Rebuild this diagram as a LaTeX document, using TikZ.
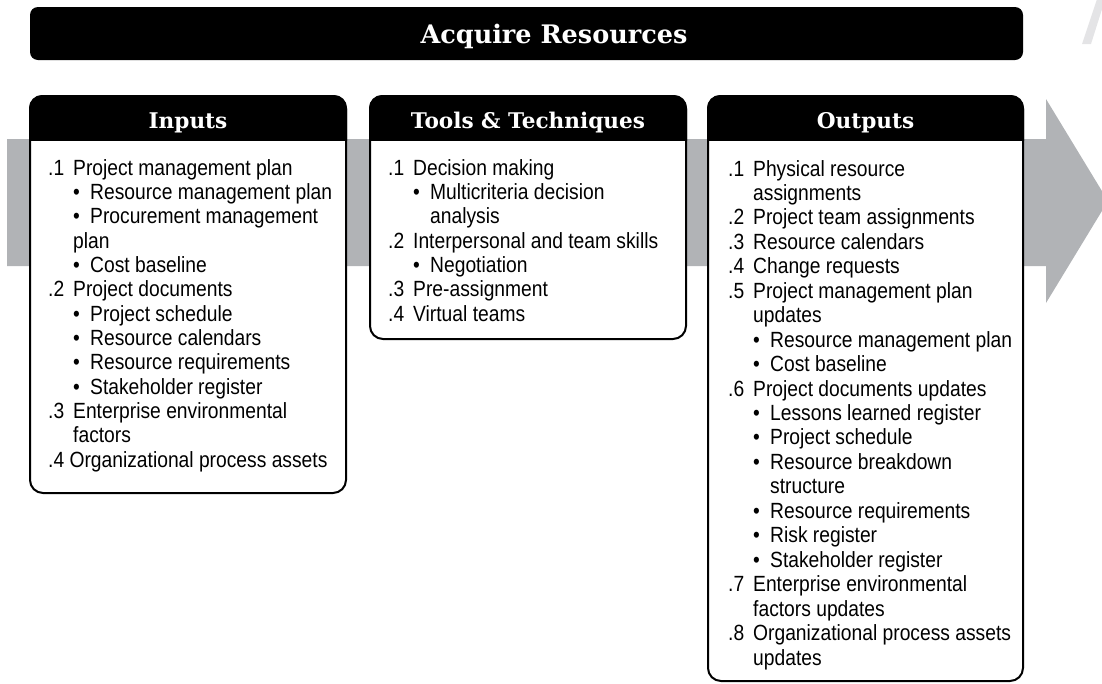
\documentclass[tikz,border=0pt]{standalone}
\usepackage{fontspec}
\setmainfont{Liberation Sans}[FakeStretch=0.875]
\newfontfamily\headfont{DejaVu Serif}
\usepackage{tikz}
\usetikzlibrary{positioning}
\definecolor{arrowgray}{RGB}{177,179,182}
\definecolor{sliver}{RGB}{228,228,230}
\newcommand\nm[1]{\makebox[25pt][l]{#1}}
\newcommand\bl{\hspace*{25pt}\makebox[17pt][l]{\textbullet}}
\newcommand\ct{\hspace*{25pt}}
\newcommand\bc{\hspace*{42pt}}

\tikzset{
  itemtext/.style={anchor=base west, inner sep=0pt, font=\fontsize{22}{24}\selectfont},
  headtext/.style={anchor=base, inner sep=0pt, text=white, font=\headfont\bfseries\fontsize{21.6}{24}\selectfont},
  boxline/.style={draw=black, line width=2pt, fill=white, rounded corners=13pt},
}

\begin{document}
\begin{tikzpicture}[x=1pt, y=-1pt]
\useasboundingbox (0,0) rectangle (1102,683);
\clip (0,0) rectangle (1102,683);

% faint sliver, top right
\fill[sliver] (1082,44) -- (1091,44) -- (1103,6) -- (1103,-1) -- (1097,-1) -- cycle;

% big gray arrow behind everything
\fill[arrowgray] (7,139) -- (1046,139) -- (1046,99) -- (1108,201) -- (1046,303) -- (1046,266) -- (7,266) -- cycle;

% title bar
\fill[rounded corners=8pt] (30,7) rectangle (1023,60);
\node[headtext, font=\headfont\bfseries\fontsize{25.5}{28}\selectfont] (title) at (554,43) {Acquire Resources};

% the three boxes
\foreach \nme/\xa/\xb/\yb/\ttl in {in/30/346/493/Inputs, tt/370/686/339/{Tools \& Techniques}, out/708/1023/681/Outputs}{
  \draw[boxline] (\xa,96) rectangle (\xb,\yb);
  \begin{scope}
    \clip (\xa-2,90) rectangle (\xb+2,140);
    \fill[rounded corners=13pt] (\xa-1,95) rectangle (\xb+1,170);
  \end{scope}
  \node[headtext] (\nme-head) at ({(\xa+\xb)/2},128) {\ttl};
}

% inputs
\foreach \ln [count=\i from 0] in {{\nm{.1}Project management plan}, {\bl Resource management plan},
  {\bl Procurement management}, {\ct plan}, {\bl Cost baseline}, {\nm{.2}Project documents},
  {\bl Project schedule}, {\bl Resource calendars}, {\bl Resource requirements},
  {\bl Stakeholder register}, {\nm{.3}Enterprise environmental}, {\ct factors},
  {.4 Organizational process assets}}
  \node[itemtext] (in-\i) at (48,{175+\i*24.35}) {\ln};

% tools & techniques
\foreach \ln [count=\i from 0] in {{\nm{.1}Decision making}, {\bl Multicriteria decision},
  {\bc analysis}, {\nm{.2}Interpersonal and team skills}, {\bl Negotiation},
  {\nm{.3}Pre-assignment}, {\nm{.4}Virtual teams}}
  \node[itemtext] (tt-\i) at (388,{175+\i*24.35}) {\ln};

% outputs
\foreach \ln [count=\i from 0] in {{\nm{.1}Physical resource}, {\ct assignments},
  {\nm{.2}Project team assignments}, {\nm{.3}Resource calendars}, {\nm{.4}Change requests},
  {\nm{.5}Project management plan}, {\ct updates}, {\bl Resource management plan},
  {\bl Cost baseline}, {\nm{.6}Project documents updates}, {\bl Lessons learned register},
  {\bl Project schedule}, {\bl Resource breakdown}, {\bc structure},
  {\bl Resource requirements}, {\bl Risk register}, {\bl Stakeholder register},
  {\nm{.7}Enterprise environmental}, {\ct factors updates},
  {\nm{.8}Organizational process assets}, {\ct updates}}
  \node[itemtext] (out-\i) at (728,{176+\i*24.45}) {\ln};
\end{tikzpicture}
\end{document}
